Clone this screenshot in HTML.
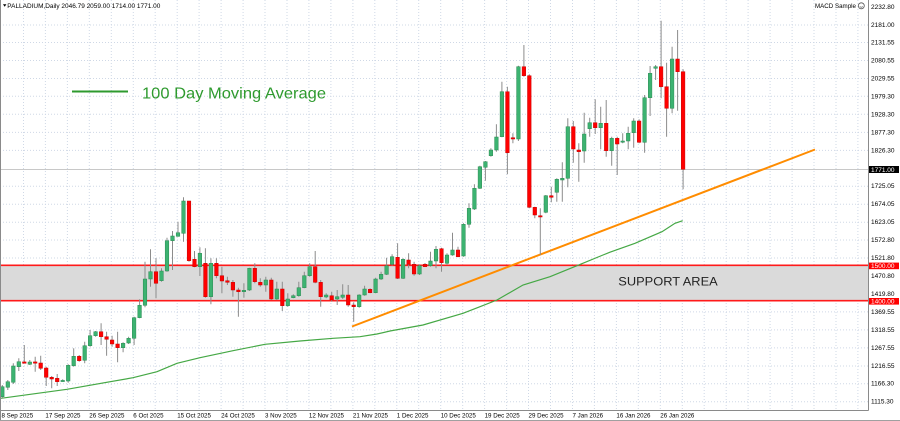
<!DOCTYPE html>
<html>
<head>
<meta charset="utf-8">
<style>
html,body{margin:0;padding:0;background:#fff;}
svg{display:block;}
text{font-family:"Liberation Sans",Arial,sans-serif;}
</style>
</head>
<body>
<svg width="900" height="421" viewBox="0 0 900 421" xmlns="http://www.w3.org/2000/svg">
<rect x="0" y="0" width="900" height="421" fill="#ffffff"/>
<!-- grid -->
<path d="M0 25H868M0 42.5H868M0 60.5H868M0 78.5H868M0 96.3H868M0 114.3H868M0 132.4H868M0 150.4H868M0 186.2H868M0 204.2H868M0 222.2H868M0 240H868M0 258H868M0 276.1H868M0 294.1H868M0 311.9H868M0 329.9H868M0 347.9H868M0 366H868M0 383.7H868M0 401.7H868" stroke="#cfd8e6" stroke-width="1" stroke-dasharray="1 2" fill="none"/>
<path d="M23.5 0V410M45.4 0V410M67.4 0V410M89.3 0V410M111.3 0V410M133.3 0V410M155.2 0V410M177.2 0V410M199.1 0V410M221.1 0V410M243.1 0V410M265 0V410M287 0V410M308.9 0V410M330.9 0V410M352.9 0V410M374.8 0V410M396.8 0V410M418.7 0V410M440.7 0V410M462.7 0V410M484.6 0V410M506.6 0V410M528.5 0V410M550.5 0V410M572.5 0V410M594.4 0V410M616.4 0V410M638.3 0V410M660.3 0V410M682.3 0V410M704.2 0V410M726.2 0V410M748.1 0V410M770.1 0V410M792.1 0V410M814 0V410M836 0V410M857.9 0V410" stroke="#cfd8e6" stroke-width="1" stroke-dasharray="1 2" fill="none"/>
<!-- support area -->
<rect x="0" y="265.3" width="868" height="35.4" fill="#dadada"/>
<line x1="0" y1="265.3" x2="868" y2="265.3" stroke="#ff1a1a" stroke-width="1.6"/>
<line x1="0" y1="300.7" x2="868" y2="300.7" stroke="#ff1a1a" stroke-width="1.6"/>
<text x="618.3" y="285.4" font-size="12.3" fill="#222" textLength="99.4" lengthAdjust="spacingAndGlyphs">SUPPORT AREA</text>
<!-- current price line -->
<line x1="0" y1="169.5" x2="868" y2="169.5" stroke="#c8c8c8" stroke-width="1"/>
<!-- moving average -->
<polyline fill="none" stroke="#45a845" stroke-width="1.2" points="1,398.3 67,389.3 133,377.7 157,371.7 177,363.3 200,357.7 233,350.7 265,344.3 300,341 333,338.3 360,336.7 377,334 390,331 423,325 463,313.3 480,306.7 497,300 523,285 550,276.7 577,265.7 603,255 610,252.2 635,243.3 662,231.7 675,223.3 682.7,220.7"/>
<!-- orange trend line -->
<line x1="352" y1="326.5" x2="815" y2="149.5" stroke="#ff8c00" stroke-width="2"/>
<!-- wicks -->
<path fill="none" stroke="#8c8c8c" stroke-width="1" d="M2.3 385V398.3M7.8 380V390M13.3 363.3V384M18.8 358.3V371M24.3 345V363.3M29.8 360V365M35.2 356.7V371.7M40.7 355.7V370M46.2 366.7V386M51.7 376V388.3M57.2 374V386M62.7 379.3V381.7M68.2 364.3V382.7M73.7 348.3V366.7M79.2 355V361.7M84.7 341.7V363.3M90.1 330V346.7M95.6 331V336.7M101.1 323.3V345M106.6 331.7V355.7M112.1 335.7V346.7M117.6 331.7V362.3M123.1 342.3V352.3M128.6 336.7V344M134.1 316.7V345M139.6 299.3V318.3M145 261.7V307.3M150.5 249.3V286.7M156 258.3V298.3M161.5 268.3V281.7M167 237.7V271.7M172.5 231V270M178 221.7V236.7M183.5 197.3V241.7M189 201V261.7M194.5 251V267.3M199.9 247.3V276M205.4 248.3V297.7M210.9 258.3V304.3M216.4 258.3V278.3M221.9 266.7V293.3M227.4 276.7V285M232.9 280V296.7M238.4 287.7V316.7M243.9 283.3V297.7M249.4 267.7V291M254.8 263.3V283.3M260.3 278.3V286.7M265.8 276.7V291.7M271.3 277.7V300M276.8 281.7V300M282.3 281.7V311M287.8 293.3V306.7M293.3 294.3V298.3M298.8 281.7V296.7M304.3 271.7V288.3M309.7 263.3V276.7M315.2 251V283.3M320.7 280V306.7M326.2 293.3V298.3M331.7 291.7V301.7M337.2 290V305M342.7 284.3V299M348.2 285V306.7M353.7 302.3V321.7M359.2 294.3V307.7M364.6 285.7V295.7M370.1 288.3V293.3M375.6 277.7V293.3M381.1 271.7V280M386.6 257.7V275M392.1 254.3V265.7M397.6 243.3V279M403.1 258.3V279M408.6 253.3V268.3M414.1 261.7V275.7M419.5 264.3V275M425 263V267M430.5 251.7V266.7M436 246V268.3M441.5 247.7V271.7M447 253.3V265M452.5 232.7V255.7M458 246.7V257.3M463.5 223.3V256.7M469 203.3V227.7M474.4 184.3V210M479.9 165.7V189M485.4 161V180.7M490.9 148.3V156.7M496.4 124.3V151.7M501.9 81.7V137.3M507.4 86.7V174.3M512.9 133.3V143.3M518.4 65.7V141M523.9 45V76.7M529.3 74.3V208.3M534.8 206.7V218.3M540.3 208.3V255M545.8 195V213.3M551.3 186.7V202.3M556.8 178.3V201.7M562.3 162.3V201.7M567.8 118.3V187.3M573.3 121V162.7M578.8 143.3V181.7M584.2 112.7V162.7M589.7 117.7V136.7M595.2 99.3V134M600.7 106.7V149.3M606.2 100V156.7M611.7 136.7V165.7M617.2 136.7V175M622.7 133.3V143.3M628.2 126.7V149.3M633.7 118.3V147.7M639.1 119.3V143.3M644.6 95V152.7M650.1 66V116M655.6 65V80M661.1 20.7V98.3M666.6 62.7V136.7M672.1 46.7V113.3M677.6 30V110.7M683.1 69.3V189.3"/>
<!-- green bodies -->
<g fill="#3cb371" stroke="#2a8a52" stroke-width="0.5">
<rect x="0.5" y="386.7" width="3.6" height="10"/>
<rect x="6" y="381.7" width="3.6" height="5.6"/>
<rect x="11.5" y="366" width="3.6" height="16.3"/>
<rect x="17" y="361.7" width="3.6" height="5"/>
<rect x="28" y="362" width="3.6" height="2.3"/>
<rect x="60.9" y="380.4" width="3.6" height="1.2"/>
<rect x="66.4" y="365.3" width="3.6" height="15.7"/>
<rect x="71.9" y="356.3" width="3.6" height="9.4"/>
<rect x="82.9" y="345.7" width="3.6" height="14.6"/>
<rect x="88.3" y="335.7" width="3.6" height="10"/>
<rect x="93.8" y="331.7" width="3.6" height="4"/>
<rect x="121.3" y="343.3" width="3.6" height="4.4"/>
<rect x="126.8" y="338.3" width="3.6" height="4.7"/>
<rect x="132.3" y="317.7" width="3.6" height="20.6"/>
<rect x="137.8" y="305.3" width="3.6" height="12.4"/>
<rect x="143.2" y="279" width="3.6" height="26.3"/>
<rect x="148.7" y="271.7" width="3.6" height="7.3"/>
<rect x="159.7" y="271" width="3.6" height="9.7"/>
<rect x="165.2" y="240.7" width="3.6" height="30.3"/>
<rect x="170.7" y="236" width="3.6" height="4.7"/>
<rect x="176.2" y="232.7" width="3.6" height="3.6"/>
<rect x="181.7" y="201" width="3.6" height="32.3"/>
<rect x="198.1" y="253.3" width="3.6" height="13.4"/>
<rect x="209.1" y="263.3" width="3.6" height="33.4"/>
<rect x="242.1" y="290.3" width="3.6" height="1.4"/>
<rect x="247.6" y="268.3" width="3.6" height="21.7"/>
<rect x="264" y="280" width="3.6" height="5"/>
<rect x="275" y="289" width="3.6" height="10"/>
<rect x="286" y="299" width="3.6" height="6.7"/>
<rect x="291.5" y="295.7" width="3.6" height="2"/>
<rect x="297" y="287.7" width="3.6" height="8"/>
<rect x="302.5" y="275.7" width="3.6" height="12"/>
<rect x="307.9" y="266.7" width="3.6" height="9"/>
<rect x="324.4" y="295" width="3.6" height="2"/>
<rect x="335.4" y="296.7" width="3.6" height="2.3"/>
<rect x="340.9" y="295" width="3.6" height="2.3"/>
<rect x="357.4" y="295" width="3.6" height="11.7"/>
<rect x="362.8" y="289" width="3.6" height="6"/>
<rect x="373.8" y="279" width="3.6" height="13.7"/>
<rect x="379.3" y="274.3" width="3.6" height="4.7"/>
<rect x="384.8" y="265.7" width="3.6" height="8.6"/>
<rect x="390.3" y="256.7" width="3.6" height="7.6"/>
<rect x="401.3" y="259.3" width="3.6" height="19"/>
<rect x="417.7" y="265.7" width="3.6" height="8.3"/>
<rect x="428.7" y="261" width="3.6" height="4.7"/>
<rect x="434.2" y="249.3" width="3.6" height="11.7"/>
<rect x="445.2" y="255" width="3.6" height="8.3"/>
<rect x="450.7" y="250" width="3.6" height="5"/>
<rect x="461.7" y="224.3" width="3.6" height="31.7"/>
<rect x="467.2" y="208.3" width="3.6" height="16"/>
<rect x="472.6" y="188.3" width="3.6" height="20.7"/>
<rect x="478.1" y="166.7" width="3.6" height="21.6"/>
<rect x="483.6" y="161.7" width="3.6" height="5.6"/>
<rect x="489.1" y="150" width="3.6" height="5.7"/>
<rect x="494.6" y="137" width="3.6" height="13"/>
<rect x="500.1" y="91.7" width="3.6" height="45"/>
<rect x="516.6" y="66.7" width="3.6" height="72.3"/>
<rect x="544" y="195.7" width="3.6" height="16.6"/>
<rect x="555" y="179.3" width="3.6" height="13"/>
<rect x="560.5" y="178.3" width="3.6" height="1.7"/>
<rect x="566" y="126.7" width="3.6" height="51.6"/>
<rect x="582.4" y="134" width="3.6" height="17"/>
<rect x="587.9" y="122.7" width="3.6" height="6"/>
<rect x="598.9" y="123.3" width="3.6" height="4.4"/>
<rect x="609.9" y="138.3" width="3.6" height="12.4"/>
<rect x="620.9" y="141" width="3.6" height="1.2"/>
<rect x="626.4" y="133.3" width="3.6" height="7.7"/>
<rect x="631.9" y="121" width="3.6" height="11.7"/>
<rect x="642.8" y="97.7" width="3.6" height="44.6"/>
<rect x="648.3" y="73.3" width="3.6" height="24.4"/>
<rect x="653.8" y="66.7" width="3.6" height="1.6"/>
<rect x="670.3" y="59" width="3.6" height="49.3"/>
</g>
<!-- red bodies -->
<g fill="#ff0000" stroke="#c80000" stroke-width="0.5">
<rect x="22.5" y="361.9" width="3.6" height="1.4"/>
<rect x="33.4" y="361.9" width="3.6" height="1.3"/>
<rect x="38.9" y="363" width="3.6" height="5.3"/>
<rect x="44.4" y="368" width="3.6" height="9.3"/>
<rect x="49.9" y="377.3" width="3.6" height="1.7"/>
<rect x="55.4" y="378.3" width="3.6" height="3.4"/>
<rect x="77.4" y="356.3" width="3.6" height="4.4"/>
<rect x="99.3" y="331.7" width="3.6" height="5"/>
<rect x="104.8" y="336.7" width="3.6" height="2.6"/>
<rect x="110.3" y="340" width="3.6" height="4"/>
<rect x="115.8" y="344" width="3.6" height="3.7"/>
<rect x="154.2" y="271.7" width="3.6" height="11.6"/>
<rect x="187.2" y="201" width="3.6" height="59.7"/>
<rect x="192.7" y="259.3" width="3.6" height="7.4"/>
<rect x="203.6" y="263.3" width="3.6" height="33.4"/>
<rect x="214.6" y="263.3" width="3.6" height="12.4"/>
<rect x="220.1" y="275.7" width="3.6" height="5.3"/>
<rect x="225.6" y="280.7" width="3.6" height="1.6"/>
<rect x="231.1" y="282.3" width="3.6" height="7.7"/>
<rect x="236.6" y="290" width="3.6" height="1.7"/>
<rect x="253" y="268.3" width="3.6" height="13.4"/>
<rect x="258.5" y="282.3" width="3.6" height="2.7"/>
<rect x="269.5" y="280" width="3.6" height="19"/>
<rect x="280.5" y="289" width="3.6" height="16.7"/>
<rect x="313.4" y="266.7" width="3.6" height="15.6"/>
<rect x="318.9" y="282.3" width="3.6" height="14.4"/>
<rect x="329.9" y="295.7" width="3.6" height="4.3"/>
<rect x="346.4" y="295" width="3.6" height="10"/>
<rect x="351.9" y="305" width="3.6" height="1.7"/>
<rect x="368.3" y="289.3" width="3.6" height="3.4"/>
<rect x="395.8" y="257.3" width="3.6" height="21"/>
<rect x="406.8" y="260" width="3.6" height="4.3"/>
<rect x="412.3" y="264.3" width="3.6" height="9.7"/>
<rect x="423.2" y="264.3" width="3.6" height="2.4"/>
<rect x="439.7" y="248.7" width="3.6" height="14"/>
<rect x="456.2" y="250" width="3.6" height="6.7"/>
<rect x="505.6" y="91.7" width="3.6" height="61"/>
<rect x="511.1" y="137.7" width="3.6" height="1.3"/>
<rect x="522.1" y="66.7" width="3.6" height="9"/>
<rect x="527.5" y="75.7" width="3.6" height="131.6"/>
<rect x="533" y="207.3" width="3.6" height="7.7"/>
<rect x="538.5" y="215.7" width="3.6" height="1.3"/>
<rect x="549.5" y="195.7" width="3.6" height="1.6"/>
<rect x="571.5" y="126.7" width="3.6" height="22.3"/>
<rect x="577" y="150" width="3.6" height="1.7"/>
<rect x="593.4" y="122.7" width="3.6" height="5"/>
<rect x="604.4" y="123.3" width="3.6" height="27.4"/>
<rect x="615.4" y="138.3" width="3.6" height="5.7"/>
<rect x="637.3" y="121" width="3.6" height="21.3"/>
<rect x="659.3" y="66.7" width="3.6" height="20"/>
<rect x="664.8" y="86.7" width="3.6" height="21.6"/>
<rect x="675.8" y="59" width="3.6" height="12.7"/>
<rect x="681.3" y="71.7" width="3.6" height="97.6"/>
</g>
<!-- legend -->
<line x1="72" y1="91.5" x2="128" y2="91.5" stroke="#2e9a2e" stroke-width="2"/>
<text x="142" y="98.6" font-size="16" fill="#2e9a2e" textLength="184" lengthAdjust="spacingAndGlyphs">100 Day Moving Average</text>
<!-- chart borders -->
<line x1="868.5" y1="0" x2="868.5" y2="410.5" stroke="#8a8a8a" stroke-width="1"/>
<line x1="0" y1="410.5" x2="868.5" y2="410.5" stroke="#8a8a8a" stroke-width="1"/>
<line x1="0.5" y1="0" x2="0.5" y2="421" stroke="#8a8a8a" stroke-width="1"/>
<line x1="0" y1="420.5" x2="900" y2="420.5" stroke="#a0a0a0" stroke-width="1"/>
<!-- title -->
<path d="M3 4.3L6.4 4.3L4.7 6.8Z" fill="#000"/>
<text x="7.3" y="8" font-size="6.5" fill="#000" textLength="153" lengthAdjust="spacingAndGlyphs">PALLADIUM,Daily  2046.79 2059.00 1714.00 1771.00</text>
<text x="815" y="8" font-size="6.5" fill="#000" textLength="41" lengthAdjust="spacingAndGlyphs">MACD Sample</text>
<circle cx="861.3" cy="5.8" r="3" fill="none" stroke="#555" stroke-width="0.8"/>
<path d="M859.8 6.5Q861.3 8 862.8 6.5" fill="none" stroke="#555" stroke-width="0.6"/>
<!-- price axis labels -->
<g font-size="6.5" fill="#000">
<text x="871" y="8.9">2232.80</text>
<text x="871" y="26.9">2181.00</text>
<text x="871" y="44.6">2131.55</text>
<text x="871" y="62.6">2080.55</text>
<text x="871" y="80.6">2029.55</text>
<text x="871" y="98.4">1979.30</text>
<text x="871" y="116.4">1928.30</text>
<text x="871" y="134.4">1877.30</text>
<text x="871" y="152.4">1826.30</text>
<text x="871" y="188">1725.05</text>
<text x="871" y="206">1674.05</text>
<text x="871" y="224.2">1623.05</text>
<text x="871" y="242">1572.80</text>
<text x="871" y="260">1521.80</text>
<text x="871" y="278">1470.80</text>
<text x="871" y="296">1419.80</text>
<text x="871" y="313.8">1369.55</text>
<text x="871" y="331.8">1318.55</text>
<text x="871" y="349.8">1267.55</text>
<text x="871" y="367.8">1216.55</text>
<text x="871" y="385.7">1166.30</text>
<text x="871" y="403.7">1115.30</text>
</g>
<rect x="869" y="166" width="30" height="7" fill="#000"/>
<text x="871" y="171.8" font-size="6.5" fill="#fff">1771.00</text>
<rect x="869" y="262.6" width="30" height="6.6" fill="#ff0000"/>
<text x="871" y="268.2" font-size="6.5" fill="#fff">1500.00</text>
<rect x="869" y="298" width="30" height="6.6" fill="#ff0000"/>
<text x="871" y="303.6" font-size="6.5" fill="#fff">1400.00</text>
<!-- time axis labels -->
<g font-size="6.2" fill="#000">
<text x="1.5" y="417.6">8 Sep 2025</text>
<text x="45.4" y="417.6">17 Sep 2025</text>
<text x="89.3" y="417.6">26 Sep 2025</text>
<text x="133.3" y="417.6">6 Oct 2025</text>
<text x="177.2" y="417.6">15 Oct 2025</text>
<text x="221.1" y="417.6">24 Oct 2025</text>
<text x="265" y="417.6">3 Nov 2025</text>
<text x="308.9" y="417.6">12 Nov 2025</text>
<text x="352.9" y="417.6">21 Nov 2025</text>
<text x="396.8" y="417.6">1 Dec 2025</text>
<text x="440.7" y="417.6">10 Dec 2025</text>
<text x="484.6" y="417.6">19 Dec 2025</text>
<text x="528.5" y="417.6">29 Dec 2025</text>
<text x="572.5" y="417.6">7 Jan 2026</text>
<text x="616.4" y="417.6">16 Jan 2026</text>
<text x="660.3" y="417.6">26 Jan 2026</text>
</g>
</svg>
</body>
</html>
